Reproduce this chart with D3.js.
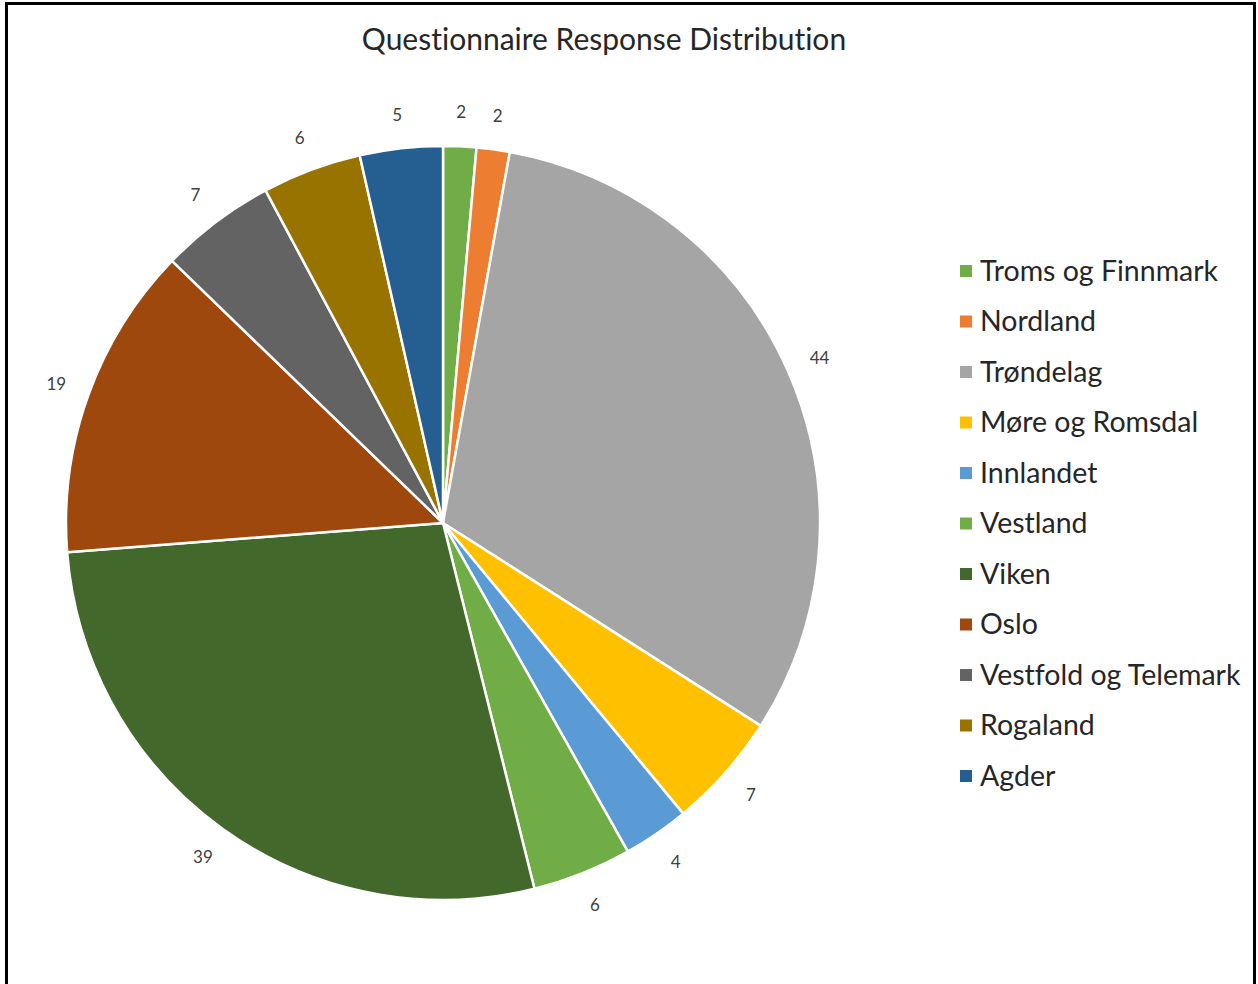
<!DOCTYPE html>
<html lang="en">
<head>
<meta charset="utf-8">
<title>Questionnaire Response Distribution</title>
<script src="https://cdn.jsdelivr.net/npm/d3@7"></script>
<style>
	body { margin:0; background:#fff; }
	text { font-variant-ligatures: none; }
	.title { font-family: Lato, "Open Sans", sans-serif; font-size:30px; fill:#262626; }
	.dlabel { font-family: Lato, "Open Sans", sans-serif; font-size:17px; fill:#404040; }
	.legend text { font-family: Lato, "Open Sans", sans-serif; font-size:28.5px; fill:#262626; }
</style>
</head>
<body>
<div id="chart"></div>
<script>
var regions = ["Troms og Finnmark","Nordland","Trøndelag","Møre og Romsdal","Innlandet","Vestland","Viken","Oslo","Vestfold og Telemark","Rogaland","Agder"];
var counts = [2,2,44,7,4,6,39,19,7,6,5];
var colours = ["#70AD47","#ED7D31","#A5A5A5","#FFC000","#5B9BD5","#70AD47","#43682B","#9E480E","#636363","#997300","#255E91"];

var W=1258, H=984;
var cx=443, cy=523, radius=377, labelR=411;

var svg = d3.select("#chart").append("svg")
	.attr("width",W).attr("height",H);

svg.append("rect").attr("width",W).attr("height",H).attr("fill","#fff");
// frame
svg.append("path")
	.attr("d","M6.5,1000 L6.5,3.5 L1254.5,3.5 L1254.5,1000")
	.attr("fill","none").attr("stroke","#000").attr("stroke-width",3);

svg.append("text").attr("class","title")
	.attr("x",604).attr("y",50).attr("text-anchor","middle")
	.text("Questionnaire Response Distribution");

var data = regions.map(function(r,i){ return {name:r, value:counts[i], colour:colours[i]}; });
var pie = d3.pie().value(function(d){return d.value;}).sort(null);
var arcs = pie(data);
var arc = d3.arc().innerRadius(0).outerRadius(radius);
var labelArc = d3.arc().innerRadius(labelR).outerRadius(labelR);

var g = svg.append("g").attr("transform","translate("+cx+","+cy+")");
g.selectAll("path.slice").data(arcs).enter().append("path")
	.attr("class","slice")
	.attr("d",arc)
	.attr("fill",function(d){return d.data.colour;})
	.attr("stroke","#fff").attr("stroke-width",2.5).attr("stroke-linejoin","round");

g.selectAll("text.dlabel").data(arcs).enter().append("text")
	.attr("class","dlabel")
	.attr("transform",function(d){ return "translate("+labelArc.centroid(d)+")"; })
	.attr("text-anchor","middle").attr("dy","0.35em")
	.text(function(d){return d.data.value;});

var lg = svg.append("g").attr("class","legend");
var ly = d3.scalePoint().domain(regions).range([271,776]);
var item = lg.selectAll("g").data(regions).enter().append("g")
	.attr("transform",function(d){ return "translate(960,"+ly(d)+")"; });
item.append("rect").attr("x",0).attr("y",-6).attr("width",12).attr("height",12)
	.attr("fill",function(d,i){return colours[i];});
item.append("text").attr("x",20).attr("dy","0.35em").text(function(d){return d;});
</script>
</body>
</html>
